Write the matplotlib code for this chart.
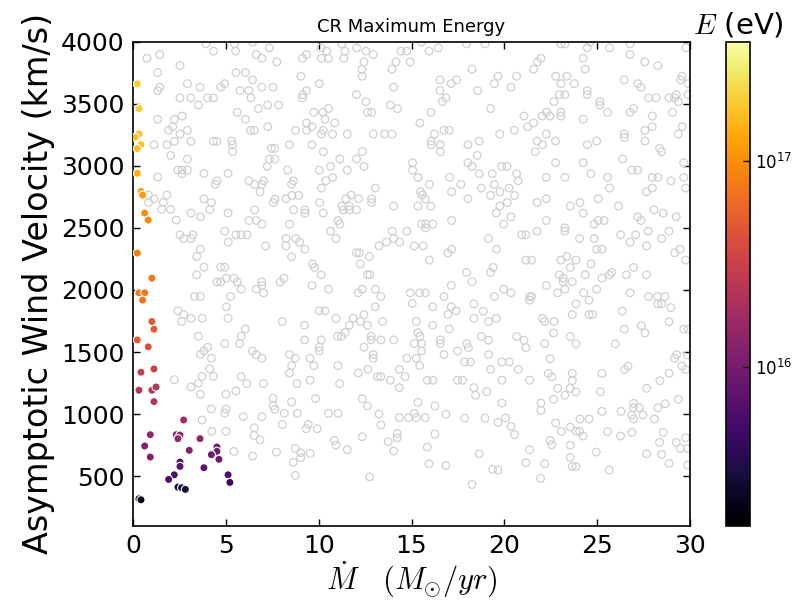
import numpy as np
import matplotlib
matplotlib.use("Agg")
import matplotlib.pyplot as plt
from matplotlib.colors import LogNorm
from matplotlib.ticker import LogLocator, NullLocator

plt.rcParams['font.family'] = ['DejaVu Sans']
plt.rcParams['mathtext.fontset'] = 'cm'

# ---- coloured points (Mdot [Msun/yr], v_inf [km/s], E_max [eV]) ----
hit_mdot = [0.23, 0.32, 0.32, 0.12, 0.43, 0.23, 0.23, 0.43, 0.52, 0.63, 0.82, 0.23,
            1.02, 0.32, 0.63, 0.52, 1.02, 1.13, 0.23, 0.82, 0.43, 1.13, 0.32, 1.02,
            1.24, 1.13, 2.73, 0.93, 2.33, 2.53, 2.42, 3.61, 0.63, 3.03, 4.52, 4.52,
            4.22, 0.93, 4.63, 2.53, 2.53, 3.82, 2.22, 5.12, 1.92, 5.22, 2.42, 2.62,
            2.82, 0.32, 0.43]
hit_vel = [3659, 3460, 3256, 3229, 3170, 3138, 2939, 2793, 2764, 2619, 2563, 2297,
           2095, 1977, 1977, 1918, 1746, 1684, 1598, 1542, 1338, 1364, 1193, 1193,
           1219, 1101, 953, 835, 835, 832, 803, 803, 744, 709, 736, 701,
           674, 655, 637, 615, 580, 569, 512, 512, 475, 451, 413, 408,
           395, 319, 311]
hit_energy = [2.0e17, 1.9e17, 1.7e17, 1.7e17, 1.7e17, 1.7e17, 1.45e17, 1.15e17, 1.15e17,
              9.8e16, 9.8e16, 7.9e16, 7.1e16, 7.5e16, 7.5e16, 7.1e16, 4.9e16, 4.9e16,
              4.9e16, 4.2e16, 3.2e16, 3.2e16, 2.4e16, 2.4e16, 2.4e16, 2.4e16, 1.74e16,
              1.48e16, 1.48e16, 1.48e16, 1.48e16, 1.48e16, 1.2e16, 1.2e16, 9.6e15, 9.6e15,
              9.6e15, 1.2e16, 9.6e15, 7.3e15, 7.3e15, 7.3e15, 5.6e15, 5.6e15, 5.6e15,
              4.8e15, 2.9e15, 2.9e15, 2.9e15, 1.9e15, 1.9e15]

# ---- grey open circles: (Mdot, v_inf) pairs ----
grey_pairs = [
    # left strip
    (0.75,3865),(1.44,3895),(2.53,3806),(1.33,3750),(3.93,3981),(4.34,3922),(2.93,3661),(3.61,3632),
    (1.44,3632),(1.33,3605),(4.72,3632),(4.94,3661),(2.53,3546),(3.12,3546),(4.02,3546),(4.33,3546),
    (3.52,3489),(1.33,3374),(2.23,3374),(2.64,3400),(2.14,3314),(1.92,3285),(2.93,3285),(2.53,3255),
    (3.12,3196),(2.23,3196),(1.83,3169),(1.13,3169),(4.33,3196),(4.52,3196),(2.03,3083),(2.93,3054),
    (2.42,2965),(2.64,2965),(2.93,2965),(2.64,2936),(1.33,2909),(3.82,2938),(4.52,2879),(4.43,2850),
    (5.12,2938),(0.83,2764),(1.83,2764),(1.13,2734),(1.63,2704),(0.84,2704),(1.54,2648),(2.03,2648),
    (3.82,2734),(4.22,2704),(4.13,2648),(3.12,2619),(3.63,2589),(2.33,2562),(5.12,2619),(2.53,2444),
    (2.73,2414),(3.23,2444),(3.12,2414),(4.94,2473),(5.13,2385),(3.63,2328),(3.43,2269),(3.82,2183),
    (4.72,2183),(4.94,2183),
    (3.43,2122),(4.52,2065),(4.72,2065),(5.03,2095),(3.32,1947),(3.63,1947),(5.03,1864),(2.42,1832),
    (2.73,1802),(2.62,1746),(3.12,1772),(3.73,1772),(5.12,1772),(3.52,1627),(4.94,1568),(3.63,1482),
    (3.82,1509),(4.02,1539),(4.22,1450),(2.23,1278),(4.13,1364),(3.72,1305),(4.33,1305),(3.12,1219),
    (3.52,1248),(3.63,1160),(5.01,1160),(4.22,1042),(5.01,1042),(4.94,1009),(3.72,953),(4.24,862),
    (5.01,862),(5.25,1947),
    # middle, upper
    (5.47,3981),(5.53,3922),(6.44,3995),(6.64,3895),(6.94,3865),(7.34,3949),(7.75,3836),(9.13,3865),
    (9.35,3895),(10.12,3949),(10.43,3922),(10.14,3865),(10.53,3865),(11.25,3981),(11.41,3922),(11.36,3865),
    (12.04,3949),(12.54,3922),(12.94,3895),(12.44,3836),(12.33,3777),(12.35,3720),(14.43,3922),(14.74,3922),
    (14.16,3836),(13.95,3777),(14.93,3836),(15.54,3995),(15.94,3922),(16.44,3949),
    (5.54,3750),(6.05,3750),(6.44,3691),(6.94,3632),(7.54,3632),(5.76,3605),(6.24,3605),(6.35,3546),
    (9.04,3720),(10.03,3661),(9.35,3605),(9.15,3572),(9.13,3546),(12.04,3572),(12.54,3516),(12.63,3430),
    (12.85,3430),(14.04,3632),(13.86,3489),(14.25,3460),(16.53,3691),(17.14,3661),(16.53,3605),(16.85,3546),
    (16.66,3516),(16.05,3430),(15.45,3344),(16.24,3255),(16.06,3199),(16.06,3169),(16.55,3169),(16.55,3113),
    (16.75,3285),(17.03,3285),
    (5.61,3430),(6.05,3374),(6.75,3460),(7.25,3489),(7.84,3489),(6.33,3285),(6.53,3285),(7.25,3314),
    (8.76,3285),(9.35,3344),(9.64,3314),(9.35,3285),(9.74,3430),(10.23,3430),(10.53,3460),(10.34,3374),
    (10.86,3344),(10.25,3285),(10.14,3255),(10.75,3255),(11.54,3255),(12.94,3255),(13.55,3255),(13.95,3255),
    (5.31,3199),(5.36,3169),(5.36,3113),(8.42,3169),(9.64,3169),(10.25,3113),(7.45,3140),(7.64,3140),
    (7.34,3054),(7.64,3054),(7.23,2995),(8.33,2965),(10.03,2965),(10.64,2995),(11.14,3054),(11.54,2965),
    (12.04,3054),(12.35,3113),(12.44,2995),(6.24,2879),(6.55,2850),(7.03,2879),(6.94,2850),(6.84,2790),
    (8.65,2879),(8.54,2850),(10.39,2879),(10.75,2906),(10.14,2820),(13.05,2820),(15.06,3024),(15.06,2965),
    (15.35,2906),(15.96,2850),(17.05,2906),(17.16,2790),
    (7.55,2704),(7.64,2731),(8.24,2734),(8.56,2761),(8.92,2761),(8.65,2645),(9.26,2645),(9.26,2619),
    (10.25,2619),(10.05,2704),(11.47,2734),(11.75,2764),(12.15,2734),(11.25,2675),(11.32,2645),(11.65,2675),
    (11.65,2645),(12.04,2645),(12.85,2734),(12.85,2704),(14.04,2675),(15.49,2790),(15.58,2764),(15.74,2731),
    (15.35,2675),(16.05,2675),(6.55,2645),(6.24,2559),(6.64,2559),(6.94,2530),(8.43,2530),(5.54,2444),
    (5.83,2444),(6.14,2444),(7.14,2355),(8.24,2414),(8.24,2355),(8.76,2414),(8.97,2385),(9.26,2328),
    (8.54,2267),(10.64,2473),(11.05,2559),(11.14,2530),(10.93,2414),(13.25,2355),(13.66,2385),(13.96,2473),
    (14.05,2414),(14.36,2385),(14.75,2473),(15.15,2355),(15.63,2355),(15.54,2530),(15.76,2530),(15.76,2500),
    (16.15,2530),(15.96,2240),(16.96,2299),(17.16,2328),(17.16,2559),(12.04,2299),(12.19,2299),(12.24,2210),
    (12.72,2269),(9.67,2210),(9.78,2181),
    # middle, lower
    (5.44,2095),(5.61,2065),(5.83,2006),(6.64,2006),(6.94,2065),(6.94,2036),(7.03,1977),(7.93,2065),
    (8.13,2095),(9.64,2036),(10.14,2122),(10.53,2006),(12.13,1977),(12.35,2006),(12.63,2122),(12.76,2122),
    (13.05,2006),(13.35,1947),(13.05,1864),(14.93,1977),(15.44,1977),(15.74,1977),(15.04,1891),(16.75,1947),
    (17.14,2036),(16.14,1864),(17.14,1864),(16.96,1802),(10.03,1832),(10.34,1832),(10.93,1772),(8.04,1746),
    (9.24,1716),(11.86,1772),(12.24,1746),(12.44,1802),(12.63,1716),(13.44,1746),(15.26,1746),(16.14,1716),
    (17.03,1686),(6.05,1686),(5.83,1627),(5.74,1568),(9.24,1598),(10.14,1598),(10.03,1539),(10.03,1509),
    (11.02,1627),(11.23,1627),(11.43,1657),(11.65,1716),(12.83,1627),(12.83,1598),(13.35,1598),(14.04,1598),
    (12.44,1539),(12.94,1480),(12.94,1450),(15.35,1657),(15.45,1627),(15.15,1568),(15.54,1568),(15.54,1509),
    (16.55,1598),(16.55,1568),(16.75,1480),(15.26,1450),(14.75,1450),(15.44,1391),(6.44,1509),(6.64,1480),
    (6.94,1450),(8.43,1480),(8.74,1450),(8.54,1391),(8.43,1332),(9.53,1450),(9.74,1391),(9.53,1273),
    (8.83,1246),(11.04,1391),(11.13,1246),(12.13,1332),(12.65,1361),(13.16,1302),(13.34,1302),(13.86,1273),
    (14.34,1361),(14.65,1302),(14.34,1214),(15.85,1273),(16.15,1273),(5.83,1302),(6.14,1246),(7.03,1246),
    (5.54,1187),(7.54,1128),(7.55,1068),(7.64,1039),(8.15,1007),(8.54,1098),(8.85,1007),(9.83,1125),
    (10.53,1007),(11.04,1007),(12.35,1125),(12.63,1066),(13.25,1001),(13.35,913),(15.35,1095),(15.15,1007),
    (15.26,972),(14.84,972),(14.34,972),(15.74,972),(16.26,1066),(16.85,999),(5.94,980),(6.94,980),
    (6.53,891),(6.53,829),(6.84,794),(8.04,918),(9.33,883),(9.44,918),(9.92,883),(10.84,789),
    (10.93,751),(11.54,714),(12.35,819),(13.75,778),(14.23,845),(14.23,810),(14.04,703),(16.26,840),
    (15.85,735),(5.44,700),(6.44,663),(7.73,695),(8.74,724),(9.03,690),(9.53,684),(8.63,612),
    (9.03,649),(8.74,507),(12.74,496),(15.94,601),(16.85,587),
    # right, upper
    (17.43,3691),(17.97,3981),(18.96,3981),(23.05,3981),(23.26,3981),(24.47,3949),(24.61,3995),(25.67,3949),
    (26.77,3981),(26.77,3895),(29.78,3949),(21.97,3865),(21.79,3836),(21.58,3777),(24.25,3865),(24.36,3777),
    (18.26,3777),(19.66,3720),(19.46,3661),(20.66,3720),(20.36,3632),(18.56,3605),(22.76,3720),(23.37,3720),
    (23.05,3661),(23.77,3661),(22.67,3516),(22.96,3572),(23.26,3572),(24.47,3605),(24.47,3572),(25.15,3516),
    (25.15,3489),(25.56,3430),(26.46,3691),(27.18,3661),(27.36,3632),(27.57,3836),(28.26,3806),(27.77,3546),
    (28.17,3546),(28.87,3546),(29.17,3546),(29.26,3572),(29.37,3516),(29.57,3720),(29.49,3691),(29.9,3661),
    (29.9,3572),(19.26,3460),(21.06,3400),(21.25,3314),(21.58,3344),(22.04,3400),(22.28,3430),(22.46,3400),
    (23.05,3430),(23.05,3400),(24.25,3374),(26.77,3430),(26.96,3460),(27.97,3400),(29.06,3430),(29.58,3314),
    (29.37,3255),(19.75,3255),(20.54,3285),(21.76,3199),(21.67,3113),(22.06,3169),(22.26,3255),(22.76,3199),
    (24.47,3169),(24.97,3199),(26.46,3255),(26.46,3228),(27.57,3285),(27.97,3314),(27.57,3199),(28.36,3140),
    (28.47,3113),(18.04,3169),(18.65,3199),(18.54,3083),(18.04,3024),(18.26,2995),(18.65,2936),(19.35,2936),
    (19.85,2995),(20.14,2995),(20.66,2936),(20.75,2879),(17.66,2850),(18.76,2820),(19.26,2761),(19.46,2850),
    (19.76,2790),(20.25,2820),(20.55,2761),(20.16,2704),(19.76,2675),(19.57,2619),(19.96,2530),(20.36,2589),
    (18.04,2734),(22.76,3024),(24.25,3024),(22.26,2906),(23.26,2906),(24.66,2936),(25.56,2906),(25.67,2820),
    (26.37,3054),(26.87,2965),(27.18,2965),(27.97,2906),(28.27,2906),(28.97,2879),(29.66,2906),(29.76,2820),
    (29.66,3024),(27.66,2790),(27.97,2820),(21.76,2704),(22.26,2734),(23.55,2675),(24.07,2704),(24.25,2619),
    (25.06,2734),(26.15,2675),(28.06,2645),(28.56,2619),(29.26,2589),(27.18,2589),(27.36,2559),(24.84,2530),
    (25.06,2559),(25.37,2559),(22.26,2559),(23.26,2500),(23.26,2473),(26.26,2444),(26.77,2385),(27.07,2444),
    (27.66,2355),(27.75,2473),(28.47,2414),(28.87,2473),(29.46,2328),(29.17,2299),(29.76,2240),(19.15,2414),
    (19.57,2328),(20.93,2444),(21.16,2444),(21.76,2473),(24.05,2414),(24.84,2414),(24.97,2328),(25.26,2328),
    (21.16,2240),(21.47,2240),(23.05,2240),(23.37,2269),(23.55,2181),(23.86,2240),(24.67,2210),(19.4,2181),
    (26.96,2181),
    # right, lower
    (17.97,2141),(19.26,2141),(18.26,2065),(22.96,2122),(23.17,2095),(23.17,2065),(23.66,2065),(24.36,2122),
    (25.26,2095),(25.67,2122),(25.78,2141),(26.57,2122),(27.66,2122),(19.96,2006),(20.36,1977),(19.46,1947),
    (21.36,1947),(21.47,1947),(21.36,1918),(22.26,2036),(22.87,1977),(23.26,2006),(24.27,1977),(24.97,2006),
    (26.77,1977),(23.86,1888),(24.56,1918),(27.77,1947),(28.26,1947),(28.65,1947),(28.26,1888),(28.47,1888),
    (28.97,1858),(18.36,1888),(18.87,1829),(18.36,1772),(19.15,1746),(19.57,1772),(22.06,1772),(22.17,1746),
    (22.67,1746),(23.66,1802),(24.56,1802),(24.75,1802),(26.35,1829),(28.87,1743),(26.46,1684),(27.38,1713),
    (27.57,1654),(29.66,1684),(29.9,1684),(18.76,1625),(19.15,1595),(20.66,1625),(21.06,1595),(21.16,1536),
    (22.65,1654),(22.17,1568),(23.55,1625),(23.86,1566),(25.98,1566),(17.97,1568),(18.06,1536),(17.48,1509),
    (17.86,1420),(18.17,1420),(19.15,1480),(19.26,1361),(19.87,1420),(20.27,1420),(20.75,1361),(22.47,1447),
    (17.48,1273),(17.75,1273),(18.36,1214),(18.45,1152),(19.06,1181),(19.87,1273),(19.87,1090),(21.36,1273),
    (22.37,1329),(22.56,1300),(23.66,1329),(23.66,1270),(22.87,1208),(23.55,1208),(23.86,1181),(23.26,1152),
    (22.65,1120),(21.97,1090),(21.97,1031),(25.26,1329),(25.17,1181),(26.48,1359),(26.66,1388),(27.66,1208),
    (28.38,1270),(28.87,1329),(29.17,1450),(29.28,1480),(29.57,1388),(29.76,1359),(29.87,1477),(29.37,1120),
    (28.67,1085),(28.27,1052),(26.96,1087),(26.96,1052),(27.27,1052),(26.86,993),(26.96,961),(27.47,993),
    (26.28,1023),(25.26,1023),(28.08,961),(17.86,969),(18.96,969),(19.66,934),(20.07,969),(20.36,902),
    (20.55,835),(22.76,929),(23.07,862),(23.55,896),(23.86,862),(24.05,862),(24.25,824),(24.07,961),
    (24.56,961),(25.56,859),(26.26,824),(26.87,853),(28.56,853),(28.36,773),(29.26,773),(29.48,724),
    (29.76,811),(29.87,724),(22.46,789),(22.56,754),(23.55,751),(24.95,695),(21.36,714),(18.65,682),
    (19.37,555),(19.66,550),(21.16,609),(22.17,601),(23.55,652),(23.66,579),(23.86,579),(25.65,550),
    (27.66,682),(28.47,676),(28.87,604),(29.87,590),(21.95,483),(18.26,434),(17.4,1832),
]
grey_mdot = [p[0] for p in grey_pairs]
grey_vel = [p[1] for p in grey_pairs]

x_ticks = [0, 5, 10, 15, 20, 25, 30]
y_ticks = [500, 1000, 1500, 2000, 2500, 3000, 3500, 4000]
e_min, e_max = 1.7e15, 3.8e17

W, H = 805, 606
fig = plt.figure(figsize=(W / 100, H / 100), dpi=100)
ax = fig.add_axes([133 / W, 1 - 526 / H, (690 - 133) / W, (526 - 41.5) / H])
cax = fig.add_axes([726 / W, 1 - 526 / H, 24 / W, (526 - 41.5) / H])

ax.scatter(grey_mdot, grey_vel, s=30, facecolors='none', edgecolors='#cfcfcf',
           linewidths=0.9, zorder=2)
sc = ax.scatter(hit_mdot, hit_vel, c=hit_energy, cmap='inferno',
                norm=LogNorm(vmin=e_min, vmax=e_max), s=34,
                edgecolors='white', linewidths=0.8, zorder=3)

ax.set_xlim(0, 30)
ax.set_ylim(100, 4000)
ax.set_xticks(x_ticks)
ax.set_yticks(y_ticks)
ax.tick_params(direction='in', top=True, right=True, labelsize=18,
               length=5, width=1, pad=6)
for s in ax.spines.values():
    s.set_linewidth(1.2)

ax.set_title('CR Maximum Energy', fontsize=13, pad=7)
ax.set_ylabel('Asymptotic Wind Velocity (km/s)', fontsize=24, labelpad=4)
ax.set_xlabel(r'$\dot{M}\quad(M_{\odot}/yr)$', fontsize=22, labelpad=1)

cb = fig.colorbar(sc, cax=cax)
cb.ax.yaxis.set_major_locator(LogLocator(base=10))
cb.ax.yaxis.set_minor_locator(NullLocator())
cb.ax.tick_params(direction='in', labelsize=12, length=5, width=1)
cb.outline.set_linewidth(1.2)
cax.set_title(r'$E$ (eV)', fontsize=21, pad=6)

fig.savefig('out.png', dpi=100, facecolor='white')
